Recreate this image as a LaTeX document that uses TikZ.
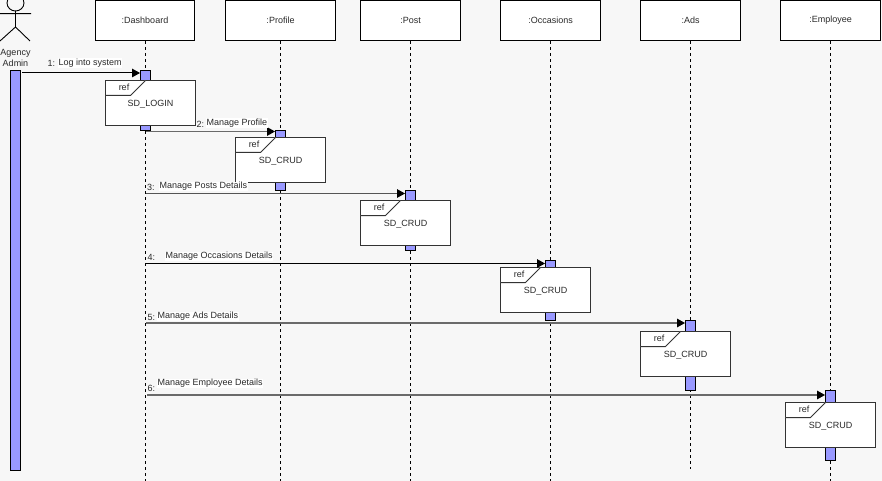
\documentclass[tikz,border=0pt]{standalone}
\usepackage{fontspec}
\setmainfont{Liberation Sans}
\usetikzlibrary{arrows.meta}
\definecolor{pagebg}{HTML}{F7F7F7}
\definecolor{act}{HTML}{9999FF}
\definecolor{ink}{HTML}{2A2A2A}
\tikzset{
  x=1pt,y=-1pt,
  headbox/.style={draw=black,fill=white,line width=1pt,minimum width=#1,minimum height=40pt,inner sep=0pt,font=\fontsize{9}{10}\selectfont,text=ink},
  lifeline/.style={draw=black,line width=1pt,dash pattern=on 3pt off 3pt},
  actbar/.style={draw=black,fill=act,line width=.9pt,minimum width=10pt,inner sep=0pt},
  refbox/.style={draw=#1,fill=white,line width=1pt},
  refbox/.default=black!80,
  msg/.style={draw=#1,line width=1pt,-{Triangle[length=8pt,width=8.5pt,color=black,fill=black]}},
  msg/.default=black,
  lbl/.style={font=\fontsize{9}{10}\selectfont,text=ink,inner sep=0.5pt,fill=white,anchor=west},
  num/.style={font=\fontsize{9}{10}\selectfont,text=ink,inner sep=0.5pt,anchor=west},
  reftxt/.style={font=\fontsize{9}{10}\selectfont,text=ink,inner sep=0pt}
}
\newcommand{\refframe}[3]{% x, y, name  (90x45)
  \draw[refbox] (#1,#2) rectangle ++(90,45);
  \draw[refbox] (#1,#2+15) -- (#1+25,#2+15) -- (#1+40,#2);
  \node[reftxt] at (#1+18.5,#2+7) {ref};
  \node[reftxt] at (#1+45,#2+23.5) {#3};
}
\begin{document}
\begin{tikzpicture}
\useasboundingbox (0,0) rectangle (882,481);
\fill[pagebg] (0,0) rectangle (882,481);
% lifelines
\node[headbox=99pt] (dash) at (145,20.5) {:Dashboard};
\node[headbox=110pt] (prof) at (280.5,20.5) {:Profile};
\node[headbox=100pt] (post) at (410.5,20.5) {:Post};
\node[headbox=100pt] (occ) at (550.5,20.5) {:Occasions};
\node[headbox=100pt] (ads) at (690.5,20.5) {:Ads};
\node[headbox=100pt] (emp) at (830.5,20.5) {:Employee};
\coordinate (dashEnd) at (145.5,481);
\coordinate (profEnd) at (280.5,481);
\coordinate (postEnd) at (410.5,481);
\coordinate (occEnd) at (550.5,481);
\coordinate (adsEnd) at (690.5,469);
\coordinate (empEnd) at (830.5,481);
\draw[lifeline] (145.5,41) -- (dashEnd);
\draw[lifeline] (prof.south) -- (profEnd);
\draw[lifeline] (post.south) -- (postEnd);
\draw[lifeline] (occ.south) -- (occEnd);
\draw[lifeline] (ads.south) -- (adsEnd);
\draw[lifeline] (emp.south) -- (empEnd);
% actor
\draw[black,line width=.9pt] (15.5,3) ellipse (8.5 and 8);
\draw[black,line width=.9pt] (0,13.7) -- (31,13.7) (15.5,11) -- (15.5,27) -- (0,41) (15.5,27) -- (30,41);
\node[font=\fontsize{9}{10}\selectfont,text=ink,align=center,inner sep=0pt] (agent) at (15.5,58) {Agency\\[1pt]Admin};
% activation bars
\node[actbar,minimum height=400pt] (a0) at (15.5,270.5) {};
\node[actbar,minimum height=60pt] (a1) at (145.5,100.5) {};
\node[actbar,minimum height=60pt] (a2) at (280.5,160.5) {};
\node[actbar,minimum height=60pt] (a3) at (410.5,220.5) {};
\node[actbar,minimum height=60pt] (a4) at (550.5,290.5) {};
\node[actbar,minimum height=70pt] (a5) at (690.5,355.5) {};
\node[actbar,minimum height=70pt] (a6) at (830.5,425.5) {};
% ref frames
\refframe{105.5}{80.5}{SD\_LOGIN}
\refframe{235.5}{137.5}{SD\_CRUD}
\refframe{360.5}{200.5}{SD\_CRUD}
\refframe{500.5}{267.5}{SD\_CRUD}
\refframe{640.5}{331.5}{SD\_CRUD}
\refframe{785.5}{402.5}{SD\_CRUD}
% messages
\draw[msg] (22,73) -- (a1.west |- 0,73);
\draw[msg=ink!70,line width=1.3pt] (146,131.5) -- (a2.west |- 0,131.5);
\draw[msg=ink!80] (146,193.5) -- (a3.west |- 0,193.5);
\draw[msg] (146,263.5) -- (a4.west |- 0,263.5);
\draw[msg=ink!70,line width=1.2pt] (146,323) -- (a5.west |- 0,323);
\draw[msg=ink!70,line width=1.3pt] (147,395) -- (a6.west |- 0,395);
% labels
\node[num] at (47,63.5) {1:};
\node[lbl] at (58,63) {Log into system};
\node[num] at (196,124) {2:};
\node[lbl] at (206,123) {Manage Profile};
\node[num] at (146.5,187.5) {3:};
\node[lbl] at (159,186.5) {Manage Posts Details};
\node[num] at (147,257.5) {4:};
\node[lbl] at (165,256.5) {Manage Occasions Details};
\node[num] at (147,317.5) {5:};
\node[lbl] at (157,316.5) {Manage Ads Details};
\node[num] at (147,388.5) {6:};
\node[lbl] at (157,383.5) {Manage Employee Details};
\end{tikzpicture}
\end{document}
